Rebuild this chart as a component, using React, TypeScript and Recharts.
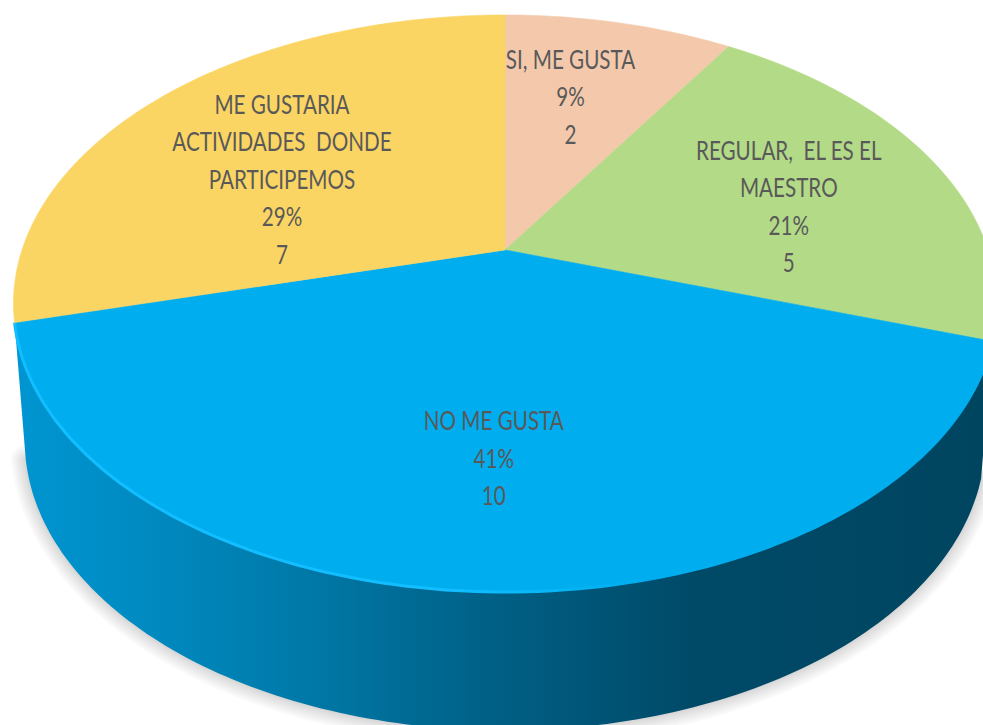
import { PieChart, Pie, Cell } from "recharts";

const CATEGORIES = [
  "SI, ME GUSTA",
  "REGULAR,  EL ES EL|MAESTRO",
  "NO ME GUSTA",
  "ME GUSTARIA|ACTIVIDADES  DONDE|PARTICIPEMOS",
];
const PERCENTS = [9, 21, 41, 29];
const COUNTS = [2, 5, 10, 7];

const COLORS = ["#F4C9AB", "#B3DA87", "#00ADEF", "#FBD563"];
// only the front slice shows a side wall in the picture
const WALL_COLORS = ["none", "none", "url(#wallBlue)", "none"];

// fake 3D: perspective squash of the circle, tilt puts the apex above the ellipse middle
const TILT = 0.1854;
const FLATTEN = 0.5768;
const WALL_FLATTEN = 0.593;
const WALL_DROP = 137;
const WALL_SCALE = 0.977;

// soft shadow under the pie, stacked strokes
const SHADOW_WIDTHS = [30, 26, 22, 18, 14, 10, 6, 3];

// label nudges off the 0.65 radius spot
const LABEL_NUDGE = [
  [-13, 2],
  [0, 15],
  [0, 2],
  [8, 32],
];

const chartData = CATEGORIES.map((name, i) => ({
  name,
  value: PERCENTS[i],
  count: COUNTS[i],
}));

const RAD = Math.PI / 180;

function project(
  cx: number,
  cy: number,
  r: number,
  deg: number,
  flatten = FLATTEN,
  depth = 1,
) {
  const c = Math.cos(deg * RAD);
  const s = Math.sin(deg * RAD);
  const d = 1 + TILT * s * depth;
  return { x: cx + (r * c) / d, y: cy - (r * flatten * s) / d };
}

function arcPoints(
  cx: number,
  cy: number,
  r: number,
  from: number,
  to: number,
  flatten = FLATTEN,
) {
  const n = Math.max(2, Math.ceil(Math.abs(to - from)));
  const pts = [];
  for (let i = 0; i <= n; i++) {
    pts.push(project(cx, cy, r, from + ((to - from) * i) / n, flatten));
  }
  return pts;
}

const toPath = (pts: { x: number; y: number }[]) =>
  pts.map((p, i) => `${i ? "L" : "M"}${p.x.toFixed(1)},${p.y.toFixed(1)}`).join(" ");

function TopSlice(props: any) {
  const { cx, cy, outerRadius, startAngle, endAngle, fill, index } = props;
  const arc = arcPoints(cx, cy, outerRadius, startAngle, endAngle);
  return (
    <g>
      <path
        d={`M${cx},${cy} ${toPath(arc).replace("M", "L")} Z`}
        fill={fill}
        stroke={fill}
        strokeWidth={0.6}
      />
      {index === 2 && (
        <path d={toPath(arc)} fill="none" stroke="url(#rimBlue)" strokeWidth={3} />
      )}
    </g>
  );
}

function WallSlice(props: any) {
  const { cx, cy, outerRadius, startAngle, endAngle, fill } = props;
  if (fill === "none") return <g />;
  const upper = arcPoints(cx, cy, outerRadius, startAngle, endAngle);
  const lower = arcPoints(
    cx,
    cy + WALL_DROP,
    outerRadius * WALL_SCALE,
    endAngle,
    startAngle,
    WALL_FLATTEN,
  );
  const d = `${toPath(upper)} ${toPath(lower).replace("M", "L")} Z`;
  return (
    <g>
      {SHADOW_WIDTHS.map((w) => (
        <path
          key={w}
          d={toPath(lower)}
          fill="none"
          stroke="#000"
          strokeOpacity={0.018}
          strokeWidth={w}
          strokeLinecap="round"
        />
      ))}
      <path d={d} fill={fill} />
    </g>
  );
}

function SliceLabel(props: any) {
  const { cx, cy, outerRadius, midAngle, index } = props;
  const spot = project(cx, cy, outerRadius * 0.65, midAngle, FLATTEN, 0.65);
  const lines = [
    ...CATEGORIES[index].split("|"),
    `${PERCENTS[index]}%`,
    `${COUNTS[index]}`,
  ];
  const [dx, dy] = LABEL_NUDGE[index];
  const lineGap = 37.5;
  const top = spot.y + dy - ((lines.length - 1) * lineGap) / 2;
  return (
    <g transform={`translate(${spot.x + dx},${top}) scale(0.765,1)`}>
      <text
        textAnchor="middle"
        fontFamily="Lato, 'Open Sans', sans-serif"
        fontSize={27}
        fill="#595959"
      >
        {lines.map((line, i) => (
          <tspan key={i} x={0} y={i * lineGap} dy={10} xmlSpace="preserve">
            {line}
          </tspan>
        ))}
      </text>
    </g>
  );
}

export default function App() {
  return (
    <div
      style={{
        position: "fixed",
        left: 0,
        top: 0,
        width: 983,
        height: 725,
        background: "#fff",
      }}
    >
      <PieChart width={983} height={725} margin={{ top: 0, right: 0, bottom: 0, left: 0 }}>
        <defs>
          <linearGradient id="wallBlue" gradientUnits="userSpaceOnUse" x1={12} y1={0} x2={983} y2={0}>
            <stop offset="0%" stopColor="#0096D2" />
            <stop offset="15%" stopColor="#0089BF" />
            <stop offset="30%" stopColor="#0079A8" />
            <stop offset="50%" stopColor="#005F85" />
            <stop offset="70%" stopColor="#004A68" />
            <stop offset="100%" stopColor="#004560" />
          </linearGradient>
          <linearGradient id="rimBlue" gradientUnits="userSpaceOnUse" x1={12} y1={0} x2={640} y2={0}>
            <stop offset="0%" stopColor="#12BEFF" />
            <stop offset="70%" stopColor="#12BEFF" />
            <stop offset="100%" stopColor="#00ADEF" />
          </linearGradient>
        </defs>
        <Pie
          data={chartData}
          dataKey="value"
          nameKey="name"
          cx={505}
          cy={250}
          outerRadius={483}
          startAngle={90}
          endAngle={-270}
          shape={WallSlice}
          label={false}
          isAnimationActive={false}
        >
          {chartData.map((d, i) => (
            <Cell key={d.name} fill={WALL_COLORS[i]} />
          ))}
        </Pie>
        <Pie
          data={chartData}
          dataKey="value"
          nameKey="name"
          cx={505}
          cy={250}
          outerRadius={483}
          startAngle={90}
          endAngle={-270}
          shape={TopSlice}
          label={SliceLabel}
          labelLine={false}
          isAnimationActive={false}
        >
          {chartData.map((d, i) => (
            <Cell key={d.name} fill={COLORS[i]} />
          ))}
        </Pie>
      </PieChart>
    </div>
  );
}
